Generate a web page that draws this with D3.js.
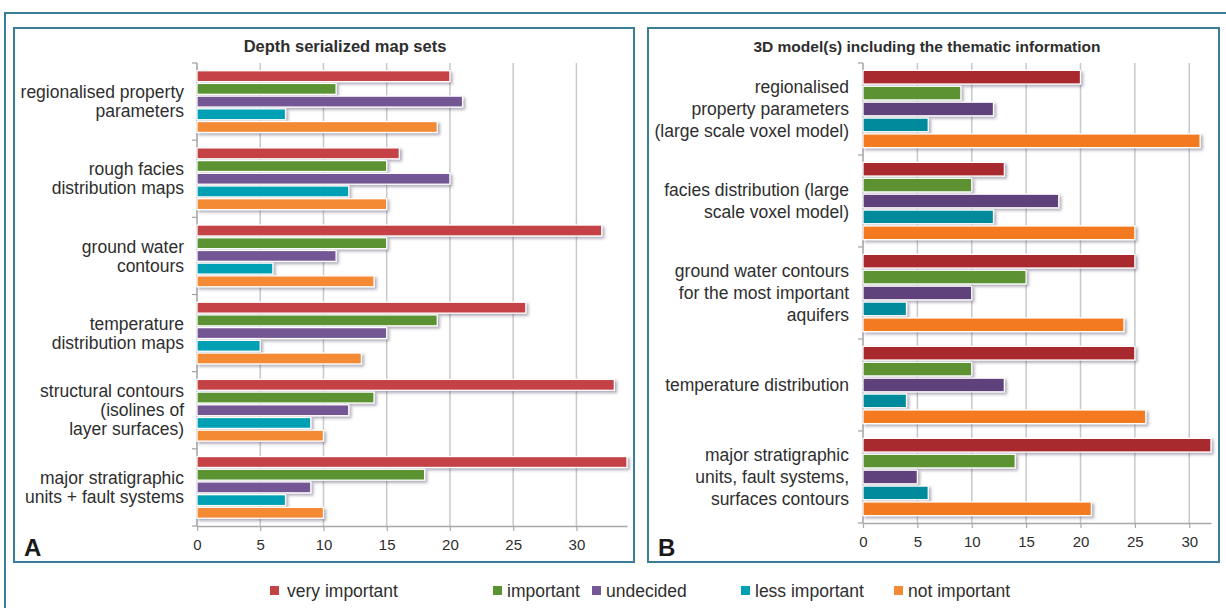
<!DOCTYPE html>
<html>
<head>
<meta charset="utf-8">
<script src="https://cdn.jsdelivr.net/npm/d3@7"></script>
<style>
  html, body { margin: 0; padding: 0; background: #fff; }
  svg { display: block; font-family: "Liberation Sans", Arial, Helvetica, sans-serif; }
</style>
</head>
<body>
<svg id="chart" width="1226" height="608"></svg>
<script>
// ---------- DATA ----------
const seriesNames = ["very important", "important", "undecided", "less important", "not important"];

const titleA = "Depth serialized map sets";
const categoriesA = [
  "regionalised property|parameters",
  "rough facies|distribution maps",
  "ground water|contours",
  "temperature|distribution maps",
  "structural contours|(isolines of|layer surfaces)",
  "major stratigraphic|units + fault systems"
];
const veryImportantA = [20, 16, 32, 26, 33, 34];
const importantA     = [11, 15, 15, 19, 14, 18];
const undecidedA     = [21, 20, 11, 15, 12, 9];
const lessImportantA = [7, 12, 6, 5, 9, 7];
const notImportantA  = [19, 15, 14, 13, 10, 10];
const ticksA = [0, 5, 10, 15, 20, 25, 30];
const maxA = 34;

const titleB = "3D model(s) including the thematic information";
const categoriesB = [
  "regionalised|property parameters|(large scale voxel model)",
  "facies distribution (large|scale voxel model)",
  "ground water contours|for the most important|aquifers",
  "temperature distribution",
  "major stratigraphic|units, fault systems,|surfaces contours"
];
const veryImportantB = [20, 13, 25, 25, 32];
const importantB     = [9, 10, 15, 10, 14];
const undecidedB     = [12, 18, 10, 13, 5];
const lessImportantB = [6, 12, 4, 4, 6];
const notImportantB  = [31, 25, 24, 26, 21];
const ticksB = [0, 5, 10, 15, 20, 25, 30];
const maxB = 32;

// ---------- STYLE ----------
const colorsA = ["#c44344", "#5b9333", "#745795", "#00a0b4", "#f58a36"];
const colorsB = ["#a8292d", "#5c9232", "#5f437b", "#008a9c", "#f47a22"];
const frameColor = "#3b7c96";
const textColor = "#2e2e2e";

const svg = d3.select("#chart");
const defs = svg.append("defs");
const f = defs.append("filter").attr("id", "shadow")
  .attr("x", "-5%").attr("y", "-50%").attr("width", "115%").attr("height", "220%");
f.append("feDropShadow").attr("dx", 2).attr("dy", 2).attr("stdDeviation", 1.6)
  .attr("flood-color", "#4a4060").attr("flood-opacity", 0.45);

// outer frame
svg.append("rect").attr("x", 5).attr("y", 13).attr("width", 1240).attr("height", 620)
  .attr("fill", "none").attr("stroke", frameColor).attr("stroke-width", 2);

function panel(cfg) {
  const g = svg.append("g");
  g.append("rect").attr("x", cfg.box[0]).attr("y", cfg.box[1])
    .attr("width", cfg.box[2] - cfg.box[0]).attr("height", cfg.box[3] - cfg.box[1])
    .attr("fill", "#fff").attr("stroke", frameColor).attr("stroke-width", 2);

  const x = d3.scaleLinear().domain([0, cfg.max]).range([cfg.x0, cfg.x1]);
  const y = d3.scaleBand().domain(cfg.categories.map((d, i) => i)).range([cfg.y0, cfg.y1])
    .paddingInner(cfg.pad).paddingOuter(cfg.pad / 2);
  const yOuter = d3.scaleBand().domain(cfg.categories.map((d, i) => i)).range([cfg.y0, cfg.y1]);
  const ys = d3.scaleBand().domain(seriesNames).range([0, y.bandwidth()]).paddingInner(0.14);

  g.append("text").attr("x", cfg.titleX).attr("y", 52).attr("text-anchor", "middle")
    .attr("font-weight", "bold").attr("font-size", cfg.titleSize).attr("fill", textColor)
    .text(cfg.title);

  g.append("g").selectAll("line").data(cfg.ticks).join("line")
    .attr("x1", d => x(d)).attr("x2", d => x(d))
    .attr("y1", cfg.y0).attr("y2", cfg.y1)
    .attr("stroke", "#c8c8c8").attr("stroke-width", 1.5);

  const xa = g.append("g").attr("transform", `translate(0,${cfg.y1})`)
    .call(d3.axisBottom(x).tickValues(cfg.ticks).tickSize(5).tickPadding(8).tickSizeOuter(0));
  xa.select(".domain").attr("stroke", "#a8a8a8").attr("stroke-width", 1.5);
  xa.selectAll(".tick line").attr("stroke", "#a8a8a8").attr("stroke-width", 1.2);
  xa.selectAll("text").attr("font-size", 15).attr("fill", textColor)
    .attr("font-family", "'Liberation Sans', Arial, sans-serif");

  g.append("line").attr("x1", cfg.x0).attr("x2", cfg.x0).attr("y1", cfg.y0).attr("y2", cfg.y1)
    .attr("stroke", "#b0b0b0").attr("stroke-width", 1.5);
  const bounds = cfg.categories.map((d, i) => yOuter(i)).concat([cfg.y1]);
  g.append("g").selectAll("line").data(bounds).join("line")
    .attr("x1", cfg.x0 - 5).attr("x2", cfg.x0)
    .attr("y1", d => d).attr("y2", d => d)
    .attr("stroke", "#a0a0a0").attr("stroke-width", 1.2);

  const rows = [];
  cfg.categories.forEach((c, i) => {
    cfg.series.forEach((arr, s) => rows.push({ cat: i, s: s, v: arr[i] }));
  });
  g.append("g").selectAll("rect").data(rows).join("rect")
    .attr("x", x(0))
    .attr("y", d => y(d.cat) + ys(seriesNames[d.s]))
    .attr("width", d => x(d.v) - x(0))
    .attr("height", ys.bandwidth())
    .attr("fill", d => cfg.colors[d.s])
    .attr("stroke", "#fff").attr("stroke-width", 1.3)
    .attr("filter", "url(#shadow)");

  const lab = g.append("g");
  cfg.categories.forEach((c, i) => {
    const lines = c.split("|");
    const cy = yOuter(i) + yOuter.bandwidth() / 2 + cfg.labelShift;
    const t = lab.append("text").attr("text-anchor", "end").attr("font-size", cfg.labelSize)
      .attr("fill", textColor);
    lines.forEach((ln, k) => {
      t.append("tspan").attr("x", cfg.labelX)
        .attr("y", cy + (k - (lines.length - 1) / 2) * cfg.lineH + cfg.labelSize * 0.35)
        .text(ln);
    });
  });

  g.append("text").attr("x", cfg.box[0] + 10).attr("y", 556).attr("font-weight", "bold")
    .attr("font-size", 24).attr("fill", "#1a1a1a").text(cfg.letter);
}

panel({
  box: [14, 28, 634, 562], title: titleA, titleX: 345, titleSize: 16.5, letter: "A",
  categories: categoriesA,
  series: [veryImportantA, importantA, undecidedA, lessImportantA, notImportantA],
  colors: colorsA, max: maxA, ticks: ticksA,
  x0: 197, x1: 627, y0: 63, y1: 526, pad: 0.2,
  labelX: 184, labelSize: 17.5, lineH: 19, labelShift: 0
});

panel({
  box: [648, 28, 1219, 562], title: titleB, titleX: 927, titleSize: 15.5, letter: "B",
  categories: categoriesB,
  series: [veryImportantB, importantB, undecidedB, lessImportantB, notImportantB],
  colors: colorsB, max: maxB, ticks: ticksB,
  x0: 863, x1: 1211, y0: 63, y1: 523, pad: 0.16,
  labelX: 849, labelSize: 17.5, lineH: 22, labelShift: 0
});

const legendX = [270, 493, 592, 741, 894];
const lg = svg.append("g");
seriesNames.forEach((n, i) => {
  lg.append("rect").attr("x", legendX[i]).attr("y", 586).attr("width", 9).attr("height", 9)
    .attr("fill", colorsA[i]);
  lg.append("text").attr("x", legendX[i] + (i === 0 ? 17 : 14)).attr("y", 597)
    .attr("font-size", 17.5).attr("fill", textColor).text(n);
});
</script>
</body>
</html>
